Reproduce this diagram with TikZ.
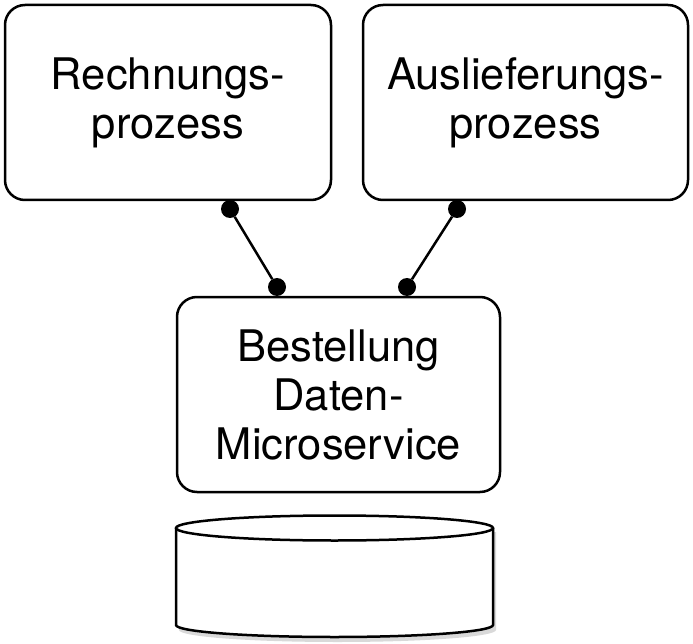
\documentclass[tikz,border=0pt]{standalone}
\usepackage{fontspec}
\setmainfont{TeX Gyre Heros}
\begin{document}
\begin{tikzpicture}[x=1pt,y=-1pt,
  box/.style={draw=black,line width=2.5pt,rounded corners=20pt,fill=white,align=center,
    font=\fontsize{43.5}{49}\selectfont,inner sep=0pt},
  dot/.style={circle,fill=black,inner sep=0pt,minimum size=18pt},
  link/.style={line width=2.5pt}]
\useasboundingbox (0,0) rectangle (693,644);
\node[box,minimum width=326pt,minimum height=195pt] (rech) at (168,102.5) {Rechnungs-\\prozess};
\node[box,minimum width=325pt,minimum height=195pt] (ausl) at (525.5,102.5) {Auslieferungs-\\prozess};
\node[box,minimum width=323pt,minimum height=195pt] (best) at (338.5,394.5) {Bestellung\\Daten-\\Microservice};
\node[dot] (d1) at (230,209) {};
\node[dot] (d2) at (277,287) {};
\node[dot] (d3) at (457,209) {};
\node[dot] (d4) at (407,287) {};
\draw[link] (d1) -- (d2);
\draw[link] (d3) -- (d4);
% database cylinder
\coordinate (db) at (334.5,528);
\fill[black!25,opacity=0.6] (179,532) -- (179,630) arc[start angle=180,end angle=0,x radius=158.5,y radius=12] -- (496,532) -- cycle;
\draw[line width=2.5pt,fill=white] (176,528) -- (176,625) arc[start angle=180,end angle=0,x radius=158.5,y radius=12] -- (493,528);
\draw[line width=2.5pt,fill=white] (db) ellipse[x radius=158.5,y radius=12.5];
\end{tikzpicture}
\end{document}
